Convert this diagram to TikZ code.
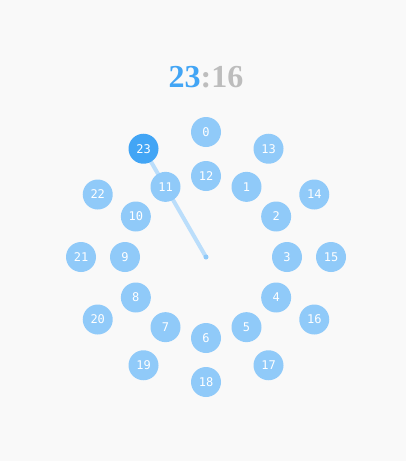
\documentclass[tikz,border=0pt]{standalone}
\usepackage{fontspec}
\setmainfont{Liberation Serif}
\newfontfamily\monof{DejaVu Sans Mono}
\definecolor{bgc}{HTML}{F9F9F9}
\definecolor{light}{HTML}{90CAF9}
\definecolor{sel}{HTML}{42A5F5}
\definecolor{handc}{HTML}{BBDEFB}
\definecolor{greyt}{HTML}{BDBDBD}
\tikzset{
  hour/.style={circle, fill=light, minimum size=30pt, inner sep=0pt, text=white, font=\monof\fontsize{12}{12}\selectfont},
  selhour/.style={hour, fill=sel},
  hand/.style={draw=handc, line width=4pt, line cap=round},
  hub/.style={circle, fill=light, minimum size=5pt, inner sep=0pt},
  titletext/.style={font=\bfseries\fontsize{32}{32}\selectfont, inner sep=0pt},
}
\begin{document}
\begin{tikzpicture}[x=1pt,y=-1pt]
\fill[bgc] (0,0) rectangle (406,461);
\useasboundingbox (0,0) rectangle (406,461);
\coordinate (c) at (206,257);
\coordinate (p23) at ({206+125*sin(330)},{257-125*cos(330)});
\draw[hand] (c) -- (p23);
\node[hub] (hubc) at (c) {};
% outer ring: 0, 13..22
\node[hour] (o0) at (206,132) {0};
\foreach \n in {13,...,22} {
  \pgfmathsetmacro{\t}{30*(\n-12)}
  \node[hour] (o\n) at ({206+125*sin(\t)},{257-125*cos(\t)}) {\n};
}
\node[selhour] (o23) at (p23) {23};
% inner ring 1..12
\foreach \n in {1,...,12} {
  \pgfmathsetmacro{\t}{30*\n}
  \node[hour] (i\n) at ({206+81*sin(\t)},{257-81*cos(\t)}) {\n};
}
\node[titletext, anchor=base] (title) at (206,87) {\textcolor{sel}{23}\textcolor{greyt}{:16}};
\end{tikzpicture}
\end{document}
